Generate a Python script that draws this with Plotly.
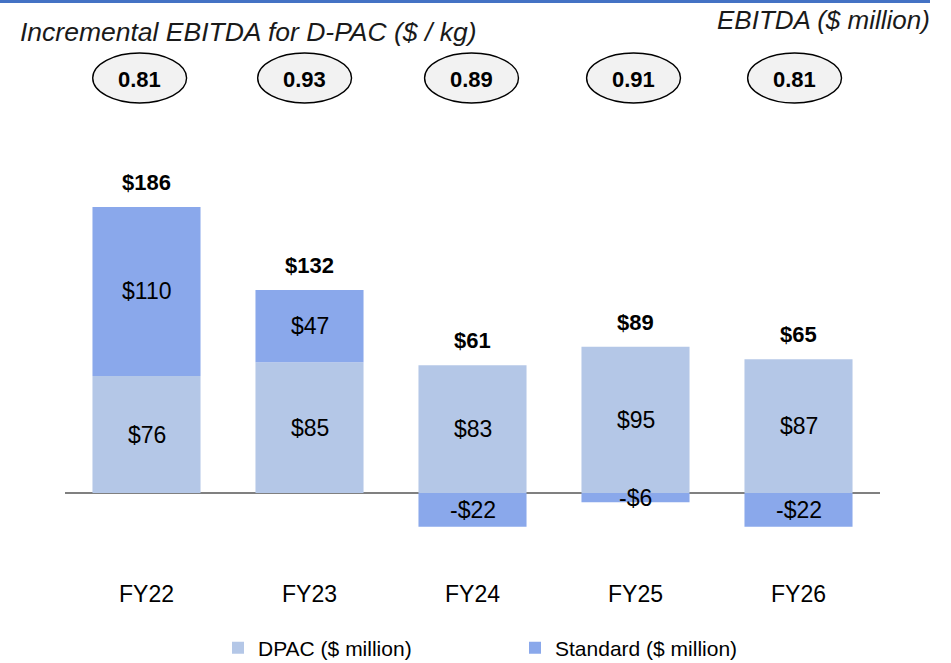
import plotly.graph_objects as go

categories = ["FY22", "FY23", "FY24", "FY25", "FY26"]
dpac = [76, 85, 83, 95, 87]
standard = [110, 47, -22, -6, -22]
totals = [186, 132, 61, 89, 65]
per_kg = ["0.81", "0.93", "0.89", "0.91", "0.81"]

W, H = 951, 663
ML, MR, MT, MB = 65, 71, 110, 85
PW, PH = W - ML - MR, H - MT - MB

def px_x(p):
    return (p - ML) / PW

def px_y(p):
    return (H - MB - p) / PH

C_DPAC = "#b4c7e7"
C_STD = "#8aa8eb"
FONT = "Liberation Sans, Arial, sans-serif"

fig = go.Figure()
fig.add_trace(go.Bar(x=categories, y=dpac, name="DPAC ($ million)",
                     marker=dict(color=C_DPAC, line=dict(width=0)), width=0.663))
fig.add_trace(go.Bar(x=categories, y=standard, name="Standard ($ million)",
                     marker=dict(color=C_STD, line=dict(width=0)), width=0.663))

ell_off = [-0.042, -0.03, -0.006, -0.012, -0.024]

ann = []
for i, c in enumerate(categories):
    d = dpac[i]
    s = standard[i]
    ann.append(dict(x=c, y=d / 2, text=f"${d}", showarrow=False, yanchor="middle",
                    font=dict(size=23, color="black", family=FONT)))
    if s >= 0:
        ymid = d + s / 2
        txt = f"${s}"
    else:
        ymid = s / 2
        txt = f"-${-s}"
    ann.append(dict(x=c, y=ymid, text=txt, showarrow=False, yanchor="middle",
                    font=dict(size=23, color="black", family=FONT)))
    pos = d + max(s, 0)
    ann.append(dict(x=c, y=pos, text=f"<b>${totals[i]}</b>", showarrow=False,
                    yanchor="bottom", yshift=10,
                    font=dict(size=22, color="black", family=FONT)))
    ann.append(dict(x=i + ell_off[i], y=px_y(79), yref="paper", text=f"<b>{per_kg[i]}</b>",
                    showarrow=False, xanchor="center", yanchor="middle",
                    font=dict(size=22, color="black", family=FONT)))

ann.append(dict(x=px_x(18), y=px_y(32), xref="paper", yref="paper", xanchor="left",
                yanchor="middle",
                text="<i>Incremental EBITDA for D-PAC ($ / kg)</i>", showarrow=False,
                font=dict(size=26.5, color="#1a1a1a", family=FONT)))
ann.append(dict(x=px_x(932), y=px_y(20), xref="paper", yref="paper", xanchor="right",
                yanchor="middle",
                text="<i>EBITDA ($ million)</i>", showarrow=False,
                font=dict(size=26, color="#1a1a1a", family=FONT)))

shapes = []
for i, c in enumerate(categories):
    shapes.append(dict(type="circle", xref="x", yref="paper",
                       x0=i + ell_off[i] - 0.288, x1=i + ell_off[i] + 0.288,
                       y0=px_y(103), y1=px_y(53),
                       fillcolor="#f2f2f2", line=dict(color="black", width=1.4),
                       layer="below"))
shapes.append(dict(type="rect", xref="paper", yref="paper",
                   x0=px_x(0), x1=px_x(930), y0=px_y(3), y1=px_y(0),
                   fillcolor="#4472c4", line=dict(width=0)))

fig.update_layout(
    width=W, height=H,
    margin=dict(l=ML, r=MR, t=MT, b=MB),
    barmode="relative",
    plot_bgcolor="white", paper_bgcolor="white",
    font=dict(family=FONT, color="black"),
    annotations=ann, shapes=shapes,
    showlegend=True,
    legend=dict(orientation="h", xref="container", yref="container",
                x=218 / W, y=1 - 648 / H, xanchor="left", yanchor="middle",
                font=dict(size=21, family=FONT), entrywidth=252, entrywidthmode="pixels",
                traceorder="normal", bgcolor="rgba(0,0,0,0)"),
    xaxis=dict(showgrid=False, showline=False, ticks="", tickfont=dict(size=23, family=FONT),
               range=[-0.5, 4.5], fixedrange=True, ticklabelstandoff=0),
    yaxis=dict(range=[-55.3, 249.0], showgrid=False, showticklabels=False, showline=False,
               zeroline=True, zerolinecolor="#808080", zerolinewidth=2),
)

fig.write_html("out.html", config={"displayModeBar": False},
               post_script="document.body.style.margin='0';")
